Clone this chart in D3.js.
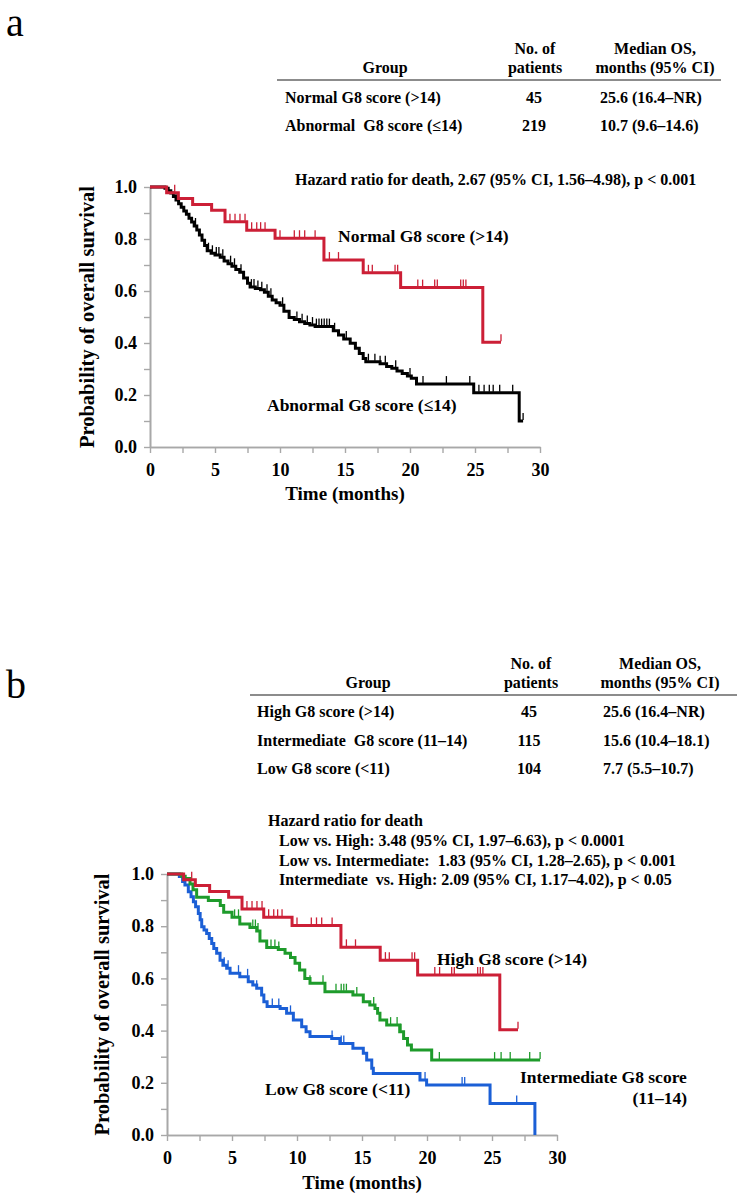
<!DOCTYPE html>
<html><head><meta charset="utf-8">
<script src="https://cdn.jsdelivr.net/npm/d3@7"></script>
<style>
body{margin:0;background:#fff;}
svg{display:block;}
text{font-family:"Liberation Serif","Times New Roman",serif;fill:#000;white-space:pre;}
</style></head><body>
<svg id="c" width="737" height="1199"></svg>
<script>
// ---------- axis ticks ----------
const xTickValues = [0, 5, 10, 15, 20, 25, 30];
const xMinorValues = [2.5, 7.5, 12.5, 17.5, 22.5, 27.5];
const yTickValues = [0, 0.2, 0.4, 0.6, 0.8, 1.0];
const yMinorValues = [0.1, 0.3, 0.5, 0.7, 0.9];

// ---------- panel a: Normal G8 (>14), n=45 ----------
const normalG8Steps = [[1.28,0.978],[2.18,0.956],[3.28,0.933],[4.74,0.911],[5.77,0.866],[7.44,0.834],[9.62,0.803],[13.38,0.719],[16.4,0.670],[19.28,0.613],[25.6,0.403]];
const normalG8End = 27.0;
const normalG8Censor = [1.9,6.15,6.54,6.92,7.31,7.82,8.21,8.51,8.85,10.0,11.1,11.5,11.9,12.7,13.8,14.5,16.8,17.1,18.85,19.05,20.6,20.97,21.9,22.1,23.9,24.1,24.3,27.0];

// ---------- panel a: Abnormal G8 (<=14), n=219 ----------
const abnormalG8Steps = [[1.15,0.995],[1.4,0.986],[1.6,0.977],[1.8,0.963],[2.0,0.950],[2.2,0.936],[2.4,0.922],[2.6,0.908],[2.8,0.895],[3.0,0.880],[3.2,0.865],[3.4,0.850],[3.6,0.835],[3.8,0.815],[4.0,0.795],[4.2,0.775],[4.4,0.755],[4.7,0.745],[5.0,0.738],[5.4,0.730],[5.7,0.715],[6.0,0.705],[6.3,0.695],[6.6,0.683],[6.9,0.672],[7.2,0.650],[7.5,0.630],[7.7,0.615],[8.1,0.610],[8.5,0.605],[8.8,0.595],[9.1,0.580],[9.4,0.565],[9.7,0.555],[10.0,0.545],[10.3,0.522],[10.7,0.498],[11.1,0.490],[11.5,0.482],[11.9,0.475],[12.3,0.469],[12.7,0.463],[14.1,0.447],[14.5,0.431],[14.9,0.415],[15.4,0.399],[15.8,0.380],[16.1,0.360],[16.4,0.340],[16.6,0.328],[17.7,0.320],[18.2,0.310],[18.6,0.303],[19.0,0.292],[19.4,0.283],[19.8,0.273],[20.1,0.264],[20.5,0.242],[24.9,0.209],[28.4,0.100]];
const abnormalG8End = 28.7;
const abnormalG8Censor = [2.0,3.5,4.5,4.8,5.1,5.3,5.6,6.2,6.5,7.0,7.8,8.0,8.3,8.6,9.0,9.3,10.2,11.3,11.7,12.1,12.5,12.8,13.0,13.2,13.4,13.6,13.8,14.2,15.1,16.8,17.3,17.7,18.1,18.9,20.0,21.0,22.8,24.6,25.3,25.7,26.1,26.4,26.9,27.9,28.7];

// ---------- panel b: High G8 (>14), n=45 (same group as Normal) ----------
const highG8Steps = normalG8Steps;
const highG8End = normalG8End;
const highG8Censor = normalG8Censor;

// ---------- panel b: Intermediate G8 (11-14), n=115 ----------
const interG8Steps = [[1.13,0.991],[1.4,0.983],[1.77,0.962],[2.0,0.940],[2.28,0.911],[3.18,0.898],[4.1,0.879],[4.36,0.853],[5.0,0.834],[5.6,0.808],[6.38,0.795],[6.9,0.782],[7.15,0.743],[7.67,0.718],[8.56,0.711],[9.08,0.696],[9.5,0.680],[9.85,0.658],[10.2,0.632],[10.6,0.600],[11.0,0.581],[12.15,0.549],[14.3,0.536],[15.1,0.511],[15.6,0.498],[16.0,0.485],[16.2,0.466],[16.38,0.441],[16.9,0.421],[17.9,0.396],[18.2,0.370],[18.5,0.345],[18.8,0.326],[20.36,0.287]];
const interG8End = 28.7;
const interG8Censor = [5.2,5.5,6.6,6.8,7.0,8.0,8.3,8.6,11.0,12.0,13.0,13.4,13.6,13.8,14.6,15.9,17.2,17.7,18.0,20.95,25.2,25.7,26.4,27.9,28.7];

// ---------- panel b: Low G8 (<11), n=104 ----------
const lowG8Steps = [[0.95,0.990],[1.2,0.971],[1.38,0.958],[1.64,0.932],[1.85,0.913],[2.03,0.894],[2.2,0.875],[2.41,0.849],[2.55,0.825],[2.67,0.798],[2.85,0.785],[3.05,0.772],[3.25,0.753],[3.44,0.734],[3.6,0.715],[3.82,0.696],[4.08,0.670],[4.3,0.650],[4.59,0.639],[4.85,0.620],[5.6,0.606],[6.25,0.587],[6.6,0.575],[6.9,0.562],[7.28,0.536],[7.45,0.511],[7.7,0.492],[8.7,0.485],[9.2,0.466],[9.72,0.441],[10.36,0.415],[10.7,0.396],[11.0,0.377],[12.67,0.370],[13.3,0.351],[14.3,0.332],[15.1,0.313],[15.36,0.287],[15.75,0.256],[15.87,0.236],[19.46,0.211],[19.97,0.192],[24.85,0.121],[28.3,0.0]];
const lowG8End = 28.3;
const lowG8Censor = [4.4,4.7,5.5,6.2,6.9,8.1,8.6,9.5,12.7,13.4,13.6,19.85,22.7,22.9,26.9];

// ---------- table texts ----------
const tableHeaderA = ["Group", "No. of", "patients", "Median OS,", "months (95% CI)"];
const tableGroupsA = ["Normal G8 score (>14)", "Abnormal  G8 score (\u226414)"];
const tableNA = ["45", "219"];
const tableMedA = ["25.6 (16.4\u2013NR)", "10.7 (9.6\u201314.6)"];
const hrTextA = "Hazard ratio for death, 2.67 (95% CI, 1.56\u20134.98), p < 0.001";

const tableHeaderB = ["Group", "No. of", "patients", "Median OS,", "months (95% CI)"];
const tableGroupsB = ["High G8 score (>14)", "Intermediate  G8 score (11\u201314)", "Low G8 score (<11)"];
const tableNB = ["45", "115", "104"];
const tableMedB = ["25.6 (16.4\u2013NR)", "15.6 (10.4\u201318.1)", "7.7 (5.5\u201310.7)"];
const hrTextB = ["Hazard ratio for death", "Low vs. High: 3.48 (95% CI, 1.97\u20136.63), p < 0.0001", "Low vs. Intermediate:  1.83 (95% CI, 1.28\u20132.65), p < 0.001", "Intermediate  vs. High: 2.09 (95% CI, 1.17\u20134.02), p < 0.05"];

const COL = {red:"#cc1f36", black:"#000000", green:"#1e9b2b", blue:"#1b5fd6"};

const svg = d3.select("#c");

function txt(x, y, s, size, anchor, weight) {
  return svg.append("text").attr("x", x).attr("y", y)
    .style("font-size", size + "px").style("font-weight", weight || "bold")
    .attr("text-anchor", anchor || "start").text(s);
}

function drawPanel(o) {
  const x = d3.scaleLinear().domain([0, 30]).range([o.x0, o.x0 + 390]);
  const y = d3.scaleLinear().domain([0, 1]).range([o.y0, o.y0 - o.h]);
  const g = svg.append("g");
  const ax = g.append("g").attr("transform", `translate(0,${o.y0})`)
    .call(d3.axisBottom(x).tickValues(xTickValues).tickFormat(d3.format("d")).tickSize(6).tickSizeOuter(0).tickPadding(5));
  const axm = g.append("g").attr("transform", `translate(0,${o.y0})`)
    .call(d3.axisBottom(x).tickValues(xMinorValues).tickFormat("").tickSize(6).tickSizeOuter(0));
  const ay = g.append("g").attr("transform", `translate(${o.x0},0)`)
    .call(d3.axisLeft(y).tickValues(yTickValues).tickFormat(d3.format(".1f")).tickSize(6).tickSizeOuter(0).tickPadding(7));
  const aym = g.append("g").attr("transform", `translate(${o.x0},0)`)
    .call(d3.axisLeft(y).tickValues(yMinorValues).tickFormat("").tickSize(6).tickSizeOuter(0));
  [ax, axm, ay, aym].forEach(a => {
    a.select(".domain").attr("stroke", "#a8a8a8").attr("stroke-width", 1.6);
    a.selectAll(".tick line").attr("stroke", "#a8a8a8").attr("stroke-width", 1.4);
    a.selectAll(".tick text").style("font-size", "18px").style("font-family", '"Liberation Serif","Times New Roman",serif').style("font-weight", "bold").attr("fill", "#000");
  });
  ax.selectAll(".tick text").attr("dy", "1.0em");
  g.append("text").attr("transform", `translate(${o.yTitleX},${o.y0 - o.h / 2}) rotate(-90)`)
    .attr("text-anchor", "middle").style("font-size", "20.5px").style("font-weight", "bold").text("Probability of overall survival");
  g.append("text").attr("x", x(15)).attr("y", o.xTitleY).attr("text-anchor", "middle")
    .style("font-size", "19px").style("font-weight", "bold").text("Time (months)");

  const line = d3.line().x(d => x(d[0])).y(d => y(d[1])).curve(d3.curveStepAfter);
  o.series.forEach(s => {
    const pts = [[0, 1]].concat(s.steps);
    const last = pts[pts.length - 1];
    if (s.end > last[0]) pts.push([s.end, last[1]]);
    g.append("path").attr("d", line(pts)).attr("fill", "none").attr("stroke", s.color)
      .attr("stroke-width", 3).attr("stroke-linejoin", "miter").attr("stroke-linecap", "butt");
    const survAt = t => { let v = 1; for (const p of s.steps) { if (p[0] <= t) v = p[1]; } return v; };
    g.selectAll(null).data(s.censor).enter().append("line")
      .attr("x1", d => x(d)).attr("x2", d => x(d))
      .attr("y1", d => y(survAt(d)) - 1).attr("y2", d => y(survAt(d)) - 8)
      .attr("stroke", s.color).attr("stroke-width", 1.3);
  });
}

// ---------- panel a ----------
txt(6, 36, "a", 40, "start", "normal");
txt(385, 73, tableHeaderA[0], 16, "middle");
txt(535, 54, tableHeaderA[1], 16, "middle");
txt(535, 73, tableHeaderA[2], 16, "middle");
txt(655, 54, tableHeaderA[3], 16, "middle");
txt(655, 73, tableHeaderA[4], 16, "middle");
svg.append("line").attr("x1", 277).attr("x2", 721).attr("y1", 80).attr("y2", 80).attr("stroke", "#8c8c8c").attr("stroke-width", 2);
tableGroupsA.forEach((s, i) => {
  const yy = 103 + i * 28;
  txt(285, yy, s, 16, "start");
  txt(534, yy, tableNA[i], 16, "middle");
  txt(600, yy, tableMedA[i], 16, "start");
});
txt(295, 185, hrTextA, 16, "start");

drawPanel({
  x0: 150, y0: 447, h: 260, yTitleX: 94, xTitleY: 500,
  series: [
    {steps: abnormalG8Steps, end: abnormalG8End, censor: abnormalG8Censor, color: COL.black},
    {steps: normalG8Steps, end: normalG8End, censor: normalG8Censor, color: COL.red}
  ]
});
txt(338, 242, "Normal G8 score (>14)", 17.5, "start");
txt(267, 411, "Abnormal G8 score (\u226414)", 17.5, "start");

// ---------- panel b ----------
txt(6, 698, "b", 40, "start", "normal");
txt(368, 688, tableHeaderB[0], 16, "middle");
txt(531, 669, tableHeaderB[1], 16, "middle");
txt(531, 688, tableHeaderB[2], 16, "middle");
txt(660, 669, tableHeaderB[3], 16, "middle");
txt(660, 688, tableHeaderB[4], 16, "middle");
svg.append("line").attr("x1", 250).attr("x2", 737).attr("y1", 695).attr("y2", 695).attr("stroke", "#8c8c8c").attr("stroke-width", 2);
tableGroupsB.forEach((s, i) => {
  const yy = 717 + i * 28.5;
  txt(257, yy, s, 16, "start");
  txt(529, yy, tableNB[i], 16, "middle");
  txt(603, yy, tableMedB[i], 16, "start");
});
txt(268, 826, hrTextB[0], 16, "start");
hrTextB.slice(1).forEach((s, i) => txt(279, 846 + i * 19.5, s, 16, "start"));

drawPanel({
  x0: 167, y0: 1135, h: 261, yTitleX: 109, xTitleY: 1189,
  series: [
    {steps: lowG8Steps, end: lowG8End, censor: lowG8Censor, color: COL.blue},
    {steps: interG8Steps, end: interG8End, censor: interG8Censor, color: COL.green},
    {steps: highG8Steps, end: highG8End, censor: highG8Censor, color: COL.red}
  ]
});
txt(437, 965, "High G8 score (>14)", 17.5, "start");
txt(265, 1095, "Low G8 score (<11)", 17.5, "start");
txt(520, 1083, "Intermediate G8 score", 17.5, "start");
txt(687, 1104, "(11\u201314)", 17.5, "end");
</script>
</body></html>
